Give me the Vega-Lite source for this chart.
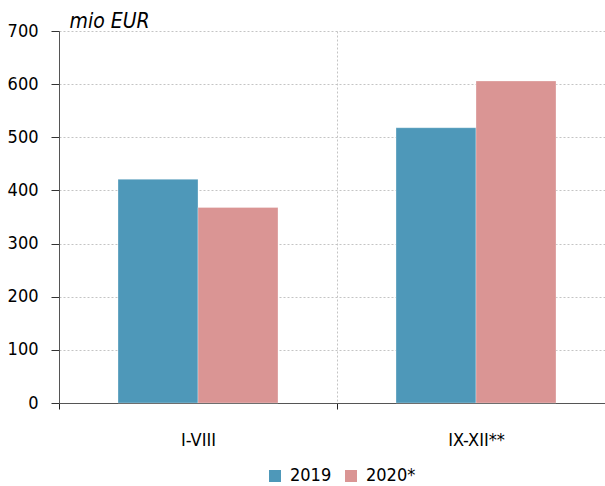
{
  "$schema": "https://vega.github.io/schema/vega-lite/v6.json",
  "width": 556,
  "height": 372,
  "autosize": {"type": "none"},
  "padding": {"left": 59, "top": 31, "right": 0, "bottom": 83},
  "background": "white",
  "config": {
    "view": {"stroke": null},
    "font": "DejaVu Sans Condensed",
    "axis": {"labelFont": "DejaVu Sans Condensed", "labelFontSize": 18, "labelFontWeight": "normal", "labelColor": "#000"},
    "legend": {"labelFont": "DejaVu Sans Condensed", "labelFontSize": 18, "labelFontWeight": "normal", "labelColor": "#000"}
  },
  "data": {
    "values": [
      {"period": "I-VIII", "year": "2019", "value": 421},
      {"period": "I-VIII", "year": "2020*", "value": 368},
      {"period": "IX-XII**", "year": "2019", "value": 518},
      {"period": "IX-XII**", "year": "2020*", "value": 606}
    ]
  },
  "mark": {"type": "bar", "stroke": "white", "strokeOpacity": 0.3, "strokeWidth": 1},
  "encoding": {
    "x": {
      "field": "period",
      "type": "nominal",
      "sort": ["I-VIII", "IX-XII**"],
      "scale": {"paddingInner": 0, "paddingOuter": 0},
      "axis": {
        "title": null,
        "labelAngle": 0,
        "tickBand": "extent",
        "grid": true,
        "gridDash": [2, 2],
        "gridColor": "#c4c4c4",
        "tickSize": 6,
        "tickColor": "#222222",
        "domainColor": "#555555",
        "labelPadding": 22
      }
    },
    "xOffset": {
      "field": "year",
      "sort": ["2019", "2020*"],
      "scale": {"paddingInner": 0, "paddingOuter": 0.7375}
    },
    "y": {
      "field": "value",
      "type": "quantitative",
      "scale": {"domain": [0, 700]},
      "axis": {
        "values": [0, 100, 200, 300, 400, 500, 600, 700],
        "title": "mio EUR",
        "titleAngle": 0,
        "titleX": 10,
        "titleY": -4,
        "titleAlign": "left",
        "titleBaseline": "alphabetic",
        "titleFont": "DejaVu Sans Condensed",
        "titleFontStyle": "italic",
        "titleFontWeight": "normal",
        "titleFontSize": 21,
        "titleColor": "#000",
        "grid": true,
        "gridDash": [2, 2],
        "gridColor": "#c4c4c4",
        "tickSize": 8,
        "tickColor": "#333333",
        "domainColor": "#555555",
        "labelPadding": 13
      }
    },
    "color": {
      "field": "year",
      "type": "nominal",
      "scale": {"domain": ["2019", "2020*"], "range": ["#4E98B9", "#DA9594"]},
      "legend": {
        "title": null,
        "orient": "none",
        "direction": "horizontal",
        "legendX": 207,
        "legendY": 436,
        "padding": 0,
        "symbolType": "square",
        "symbolSize": 144,
        "symbolStrokeWidth": 0,
        "labelOffset": 6,
        "columnPadding": 10
      }
    }
  }
}
